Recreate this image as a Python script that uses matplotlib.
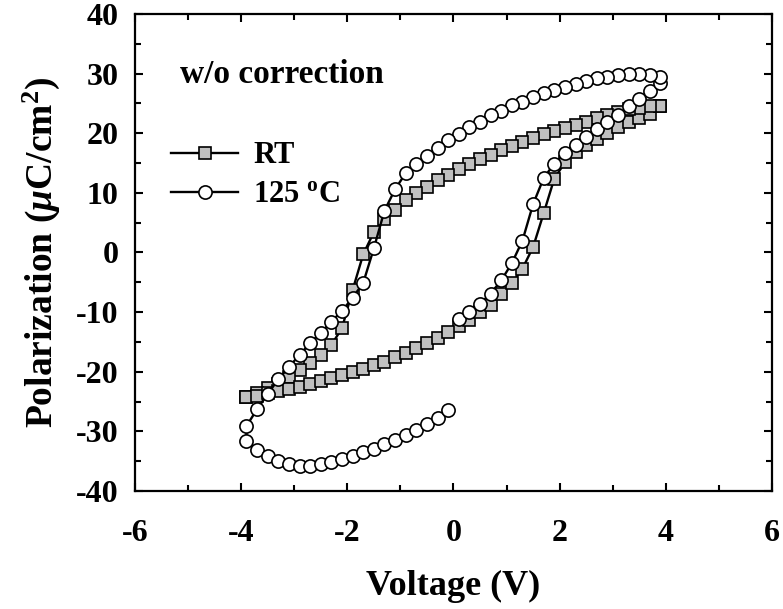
import matplotlib.pyplot as plt
from matplotlib.ticker import MultipleLocator

# voltage sweep points (V): 0 -> +4, +4 -> -4, -4 -> 0
v_up = [0.1, 0.3, 0.5, 0.7, 0.9, 1.1, 1.3, 1.5, 1.7, 1.9,
        2.1, 2.3, 2.5, 2.7, 2.9, 3.1, 3.3, 3.5, 3.7, 3.9]
v_down = [3.9, 3.7, 3.5, 3.3, 3.1, 2.9, 2.7, 2.5, 2.3, 2.1,
          1.9, 1.7, 1.5, 1.3, 1.1, 0.9, 0.7, 0.5, 0.3, 0.1,
          -0.1, -0.3, -0.5, -0.7, -0.9, -1.1, -1.3, -1.5, -1.7, -1.9,
          -2.1, -2.3, -2.5, -2.7, -2.9, -3.1, -3.3, -3.5, -3.7, -3.9]
v_back = [-3.9, -3.7, -3.5, -3.3, -3.1, -2.9, -2.7, -2.5, -2.3, -2.1,
          -1.9, -1.7, -1.5, -1.3, -1.1, -0.9, -0.7, -0.5, -0.3, -0.1]

# polarization, RT (uC/cm2)
p_rt_up = [-12.4, -11.4, -10.0, -8.8, -6.9, -5.2, -2.7, 0.9, 6.6, 12.4,
           15.1, 16.9, 18.1, 19.1, 20.0, 21.0, 21.8, 22.5, 23.3, 24.6]
p_rt_down = [24.6, 24.5, 24.3, 24.0, 23.6, 23.1, 22.5, 21.9, 21.4, 20.8,
             20.4, 19.8, 19.2, 18.6, 17.9, 17.2, 16.4, 15.6, 14.8, 14.0,
             13.0, 12.2, 11.0, 9.9, 8.8, 7.2, 5.6, 3.4, -0.3, -6.3,
             -12.7, -15.5, -17.2, -18.6, -19.7, -20.9, -22.0, -22.8, -23.5, -24.3]
p_rt_back = [-24.3, -24.0, -23.6, -23.3, -22.9, -22.5, -22.0, -21.5, -21.0, -20.5,
             -20.0, -19.5, -18.9, -18.3, -17.6, -16.9, -16.1, -15.2, -14.4, -13.4]

# polarization, 125 oC
p_ht_up = [-11.2, -10.0, -8.6, -6.9, -4.7, -1.8, 2.0, 8.1, 12.5, 14.9,
           16.6, 18.0, 19.4, 20.7, 21.9, 23.1, 24.5, 25.8, 27.1, 28.4]
p_ht_down = [29.5, 29.8, 29.9, 29.9, 29.8, 29.5, 29.2, 28.7, 28.3, 27.8,
             27.3, 26.7, 26.1, 25.3, 24.7, 23.8, 23.1, 21.9, 21.0, 19.9,
             18.8, 17.6, 16.2, 14.9, 13.3, 10.6, 7.0, 0.7, -5.1, -7.6,
             -9.8, -11.6, -13.5, -15.2, -17.2, -19.2, -21.3, -23.7, -26.3, -29.1]
p_ht_back = [-31.6, -33.2, -34.2, -35.0, -35.5, -35.8, -35.8, -35.5, -35.2, -34.7,
             -34.1, -33.5, -32.9, -32.1, -31.5, -30.6, -29.8, -28.8, -27.7, -26.5]

v_all = v_up + v_down + v_back
p_rt = p_rt_up + p_rt_down + p_rt_back
p_ht = p_ht_up + p_ht_down + p_ht_back

plt.rcParams['font.family'] = 'Liberation Serif'
plt.rcParams['font.weight'] = 'bold'
plt.rcParams['axes.labelweight'] = 'bold'
plt.rcParams['axes.unicode_minus'] = False
plt.rcParams['mathtext.fontset'] = 'custom'
plt.rcParams['mathtext.rm'] = 'Liberation Serif:bold'
plt.rcParams['mathtext.it'] = 'Liberation Serif:italic:bold'
plt.rcParams['mathtext.bf'] = 'Liberation Serif:bold'

fig = plt.figure(figsize=(7.83, 6.09), dpi=100)
ax = fig.add_axes([0.1724, 0.1938, 0.8135, 0.7833])

ax.plot(v_all, p_rt, '-s', color='black', lw=1.7, ms=8.5,
        mfc='#c0c0c0', mec='black', mew=1.2, label='RT')
ax.plot(v_all, p_ht, '-o', color='black', lw=1.7, ms=9.5,
        mfc='white', mec='black', mew=1.2, label='125 $^\\mathrm{o}$C')

ax.set_xlim(-6, 6)
ax.set_ylim(-40, 40)
ax.xaxis.set_major_locator(MultipleLocator(2))
ax.xaxis.set_minor_locator(MultipleLocator(1))
ax.yaxis.set_major_locator(MultipleLocator(10))
ax.yaxis.set_minor_locator(MultipleLocator(5))
ax.tick_params(which='both', direction='in', top=True, right=True, width=1.5, labelsize=23)
ax.tick_params(which='major', length=6)
ax.tick_params(which='minor', length=4.5)
ax.tick_params(axis='x', pad=20)
ax.tick_params(axis='y', pad=12)
for s in ax.spines.values():
    s.set_linewidth(1.6)

ax.set_xlabel('Voltage (V)', fontsize=26, fontweight='bold')
ax.set_ylabel('Polarization ($\\mu$C/cm$^2$)', fontsize=27, fontweight='bold')
ax.xaxis.set_label_coords(0.5, -0.165)
ax.yaxis.set_label_coords(-0.115, 0.5)

ax.text(-5.15, 28.4, 'w/o correction', fontsize=24, fontweight='bold',
        ha='left', va='baseline')

ax.legend(loc='upper left', bbox_to_anchor=(0.0565, 0.733), frameon=False,
          handlelength=2.2, handletextpad=0.5, labelspacing=0.33,
          borderpad=0, borderaxespad=0, prop={'size': 22, 'weight': 'bold'})

fig.savefig('out.png', dpi=100)
